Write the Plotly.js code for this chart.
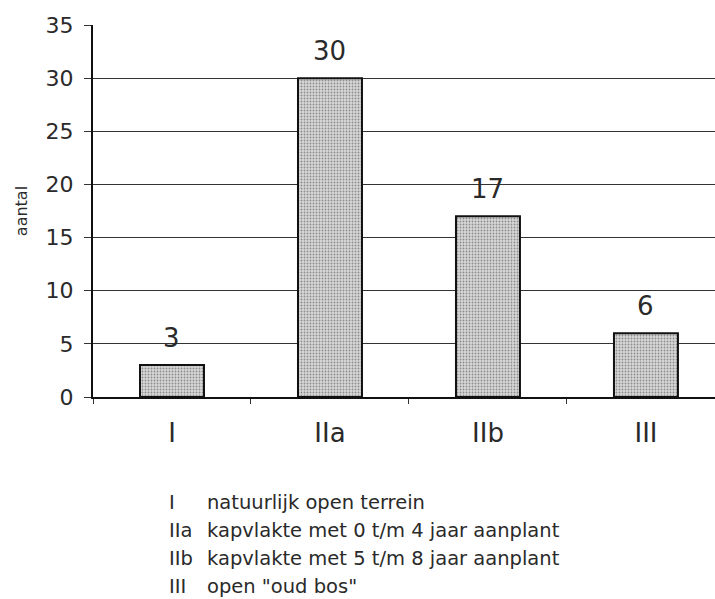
<!DOCTYPE html>
<html>
<head>
<meta charset="utf-8">
<script src="https://cdn.plot.ly/plotly-3.0.1.min.js"></script>
<style>html,body{margin:0;padding:0;background:#fff;}#chart{width:715px;height:599px;}</style>
</head>
<body>
<div id="chart"></div>
<script>
const categories = ["I", "IIa", "IIb", "III"];
const values = [3, 30, 17, 6];
const yTicks = [0, 5, 10, 15, 20, 25, 30, 35];
const legendCodes = ["I", "IIa", "IIb", "III"];
const legendTexts = [
  "natuurlijk open terrein",
  "kapvlakte met 0 t/m 4 jaar aanplant",
  "kapvlakte met 5 t/m 8 jaar aanplant",
  "open \"oud bos\""
];

const fontFam = "'DejaVu Sans', sans-serif";
const txtColor = "#2a2a2a";

const trace = {
  type: "bar",
  x: categories,
  y: values,
  width: 0.405,
  marker: {
    color: "#d0d0d0",
    line: {color: "#111", width: 2},
    pattern: {shape: ".", bgcolor: "#d8d8d8", fgcolor: "#8c8c8c", size: 3, solidity: 0.3}
  },
  hoverinfo: "skip"
};

const annotations = [];
categories.forEach((c, i) => {
  annotations.push({
    x: c, y: values[i], xref: "x", yref: "y",
    text: String(values[i]), showarrow: false,
    yanchor: "bottom", yshift: 10,
    font: {family: fontFam, size: 26, color: txtColor}
  });
});
legendCodes.forEach((code, i) => {
  const yy = 502 + i * 28;
  annotations.push({
    xref: "paper", yref: "paper", x: (167 - 93) / 622, y: 1 - (yy - 25) / 372,
    xanchor: "left", yanchor: "middle", text: code, showarrow: false,
    font: {family: fontFam, size: 19.5, color: txtColor}
  });
  annotations.push({
    xref: "paper", yref: "paper", x: (205 - 93) / 622, y: 1 - (yy - 25) / 372,
    xanchor: "left", yanchor: "middle", text: legendTexts[i], showarrow: false,
    font: {family: fontFam, size: 19.5, color: txtColor}
  });
});

const layout = {
  width: 715, height: 599,
  margin: {l: 93, r: 0, t: 25, b: 202, pad: 0},
  paper_bgcolor: "#fff", plot_bgcolor: "#fff",
  showlegend: false,
  bargap: 0,
  xaxis: {
    type: "category",
    range: [-0.5, 3.437],
    tickson: "boundaries",
    ticks: "outside", ticklen: 5, tickwidth: 1, tickcolor: "#333",
    showline: true, linecolor: "#111", linewidth: 2,
    showgrid: false, zeroline: false,
    tickfont: {family: fontFam, size: 26, color: txtColor},
    ticklabelstandoff: 12
  },
  yaxis: {
    range: [0, 35],
    tickmode: "array", tickvals: yTicks, ticktext: yTicks.map(String),
    ticks: "outside", ticklen: 7, tickwidth: 1, tickcolor: "#333",
    showline: true, linecolor: "#111", linewidth: 2,
    showgrid: true, gridcolor: "#333", gridwidth: 1,
    zeroline: false,
    tickfont: {family: fontFam, size: 22, color: txtColor},
    ticklabelstandoff: 6,
    title: {text: "aantal", font: {family: fontFam, size: 16, color: txtColor}, standoff: 14}
  },
  annotations: annotations
};

Plotly.newPlot("chart", [trace], layout, {displayModeBar: false, staticPlot: true});
</script>
</body>
</html>
